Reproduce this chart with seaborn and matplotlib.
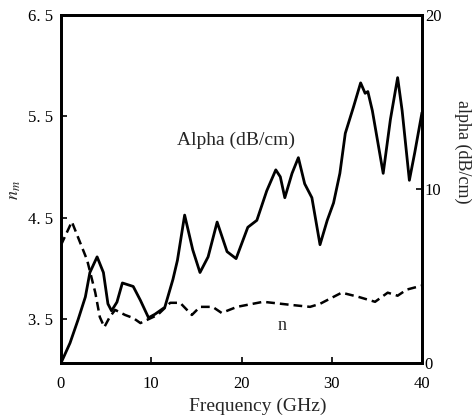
import matplotlib
matplotlib.use("Agg")
import matplotlib.pyplot as plt
import seaborn as sns
import pandas as pd
from matplotlib.ticker import FuncFormatter

# ---- data ----
alpha_freq = [0.0, 1.0, 1.9, 2.7, 3.2, 4.0, 4.7, 5.2, 5.6, 6.2, 6.8, 8.0, 8.8, 9.7,
              10.4, 11.5, 12.4, 12.9, 13.7, 14.6, 15.4, 16.3, 17.3, 18.4, 19.4,
              20.7, 21.7, 22.8, 23.8, 24.3, 24.8, 25.6, 26.3, 27.0, 27.8, 28.7,
              29.5, 30.2, 30.9, 31.5, 32.4, 33.2, 33.7, 34.0, 34.5, 35.7, 36.5,
              37.3, 37.8, 38.6, 39.2, 40.0]
alpha_db = [0.0, 1.15, 2.5, 3.8, 5.2, 6.1, 5.2, 3.4, 3.0, 3.5, 4.6, 4.4, 3.6, 2.6,
            2.8, 3.2, 4.8, 5.9, 8.5, 6.5, 5.2, 6.1, 8.1, 6.4, 6.0,
            7.8, 8.2, 9.9, 11.1, 10.7, 9.5, 10.9, 11.8, 10.3, 9.5, 6.8,
            8.2, 9.2, 10.9, 13.2, 14.7, 16.1, 15.5, 15.6, 14.5, 10.9, 14.0,
            16.4, 14.5, 10.5, 12.1, 14.4]

n_freq = [0.0, 1.2, 2.9, 3.8, 4.3, 4.8, 5.4, 6.0, 7.1, 8.0, 8.8, 9.5, 10.7, 12.1,
          13.2, 14.5, 15.4, 16.8, 17.8, 19.5, 22.4, 25.4, 27.6, 28.7, 31.1, 32.9,
          34.8, 36.2, 37.3, 38.3, 40.0]
n_val = [4.23, 4.46, 4.08, 3.76, 3.52, 3.42, 3.52, 3.59, 3.54, 3.51, 3.46, 3.49,
         3.54, 3.66, 3.66, 3.54, 3.62, 3.62, 3.56, 3.62, 3.67, 3.64, 3.62, 3.65,
         3.76, 3.72, 3.67, 3.76, 3.73, 3.79, 3.83]

x_ticks = [0, 10, 20, 30, 40]
n_ticks = [3.5, 4.5, 5.5, 6.5]
alpha_ticks = [0, 10, 20]

df_alpha = pd.DataFrame({"freq": alpha_freq, "alpha": alpha_db})
df_n = pd.DataFrame({"freq": n_freq, "n": n_val})

sns.set_style("ticks")
plt.rcParams["font.family"] = ["Liberation Serif", "DejaVu Serif"]
plt.rcParams["mathtext.fontset"] = "stix"

fig = plt.figure(figsize=(4.72, 4.16), dpi=100)
ax = fig.add_axes([61 / 472, (416 - 363) / 416, (422 - 61) / 472, (363 - 15) / 416])
ax2 = ax.twinx()

sns.lineplot(data=df_n, x="freq", y="n", ax=ax, color="black", lw=1.8,
             linestyle=(0, (3.5, 2)), sort=False)
sns.lineplot(data=df_alpha, x="freq", y="alpha", ax=ax2, color="black", lw=2.0,
             sort=False)

ax.set_xlim(0, 40)
ax.set_ylim(3.066, 6.5)
ax2.set_ylim(0, 20)
ax.set_xticks(x_ticks)
ax.set_yticks(n_ticks)
ax2.set_yticks(alpha_ticks)
ax.yaxis.set_major_formatter(FuncFormatter(lambda v, p: f"{v:.1f}".replace(".", ". ")))

for a in (ax, ax2):
    for s in a.spines.values():
        s.set_linewidth(2.0)
        s.set_color("black")
ax.tick_params(axis="both", direction="in", length=4, width=1.2, labelsize=12, colors="black")
ax.tick_params(axis="y", pad=6)
ax.tick_params(axis="x", pad=9)
ax2.tick_params(axis="y", direction="in", length=4, width=1.2, labelsize=12, pad=2, colors="black")

ax.set_xlabel("Frequency (GHz)", fontsize=14)
ax.xaxis.set_label_coords(0.545, -0.1)
ax.set_ylabel("$n_m$", fontsize=13, va="center")
ax.yaxis.set_label_coords(-0.13, 0.497)
ax2.set_ylabel("alpha (dB/cm)", fontsize=13, rotation=-90, va="center", ha="center")
ax2.yaxis.set_label_coords(1.114, 0.606)

ax2.text(12.85, 12.8, "Alpha (dB/cm)", fontsize=14, ha="left", va="center")
ax.text(24.5, 3.44, "n", fontsize=13, ha="center", va="center")

fig.savefig("out.png", dpi=100)
